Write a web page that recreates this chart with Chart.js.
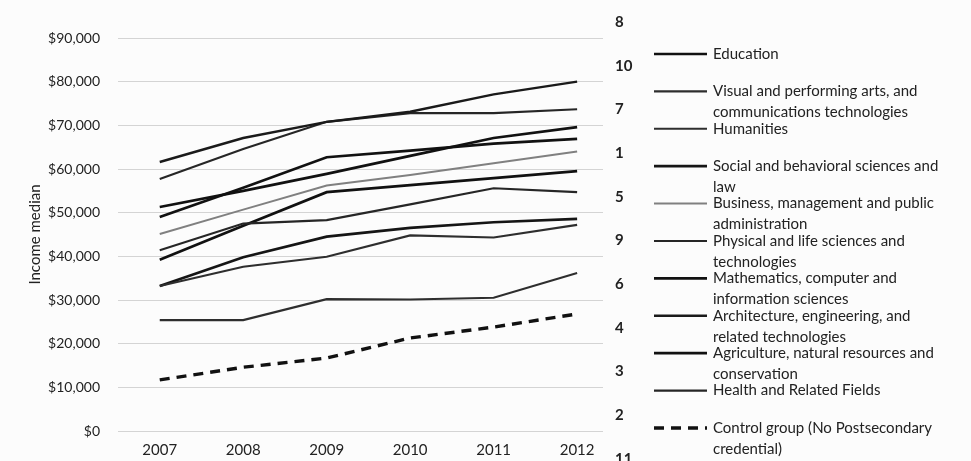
<!DOCTYPE html>
<html>
<head>
<meta charset="utf-8">
<script src="https://cdn.jsdelivr.net/npm/chart.js@4.4.1/dist/chart.umd.min.js"></script>
<style>
  html, body { margin: 0; padding: 0; background: #fcfcfc; }
  #wrap { position: relative; width: 971px; height: 461px; }
</style>
</head>
<body>
<div id="wrap"><canvas id="c"></canvas></div>
<script>
// ---------- data ----------
const years = [2007, 2008, 2009, 2010, 2011, 2012];
const yTicks = [0, 10000, 20000, 30000, 40000, 50000, 60000, 70000, 80000, 90000];

const seriesNames = [
  ['Education'],
  ['Visual and performing arts, and', 'communications technologies'],
  ['Humanities'],
  ['Social and behavioral sciences and', 'law'],
  ['Business, management and public', 'administration'],
  ['Physical and life sciences and', 'technologies'],
  ['Mathematics, computer and', 'information sciences'],
  ['Architecture, engineering, and', 'related technologies'],
  ['Agriculture, natural resources and', 'conservation'],
  ['Health and Related Fields'],
  ['Control group (No Postsecondary', 'credential)']
];

const education    = [49000, 55700, 62700, 64200, 65800, 66900];
const visualArts   = [25400, 25400, 30200, 30100, 30500, 36200];
const humanities   = [33200, 37600, 39900, 44800, 44300, 47200];
const social       = [33200, 39800, 44500, 46500, 47800, 48600];
const business     = [45100, 50700, 56200, 58600, 61300, 64000];
const physical     = [41400, 47500, 48300, 51900, 55600, 54700];
const mathematics  = [51300, 55000, 58900, 63000, 67100, 69600];
const architecture = [61600, 67100, 70800, 73100, 77100, 80000];
const agriculture  = [39200, 47000, 54700, 56300, 57900, 59500];
const health       = [57700, 64600, 70800, 72800, 72800, 73700];
const control      = [11700, 14600, 16700, 21300, 23800, 26800];

const seriesValues = [education, visualArts, humanities, social, business,
  physical, mathematics, architecture, agriculture, health, control];

// annotation column on the right of the plot
const rankLabels = ['8', '10', '7', '1', '5', '9', '6', '4', '3', '2', '11'];

// ---------- styles ----------
const seriesStyles = [
  { color: '#111', width: 2.7, dash: [] },
  { color: '#2e2e2e', width: 2.1, dash: [] },
  { color: '#2e2e2e', width: 2.1, dash: [] },
  { color: '#151515', width: 2.7, dash: [] },
  { color: '#808080', width: 2.0, dash: [] },
  { color: '#262626', width: 2.1, dash: [] },
  { color: '#111', width: 2.7, dash: [] },
  { color: '#1a1a1a', width: 2.4, dash: [] },
  { color: '#111', width: 2.7, dash: [] },
  { color: '#262626', width: 2.1, dash: [] },
  { color: '#111', width: 3.4, dash: [10, 7] }
];

const FONT = 'Lato, "Open Sans", sans-serif';
const TEXT = '#222';

const datasets = seriesValues.map((vals, i) => ({
  label: seriesNames[i].join(' '),
  data: vals.map((v, k) => ({ x: years[k], y: v })),
  borderColor: seriesStyles[i].color,
  borderWidth: seriesStyles[i].width,
  borderDash: seriesStyles[i].dash,
  pointRadius: 0,
  tension: 0,
  fill: false
}));

const sidePlugin = {
  id: 'side',
  afterDraw(chart) {
    const ctx = chart.ctx;
    const ys = chart.scales.y;
    ctx.save();
    // right-hand number column
    ctx.font = 'bold 15px ' + FONT;
    ctx.fillStyle = '#222';
    ctx.textAlign = 'left';
    ctx.textBaseline = 'middle';
    rankLabels.forEach((t, i) => {
      const y = ys.getPixelForValue(90000 - i * 10000) - 16;
      ctx.fillText(t, 615, y);
    });
    // legend
    ctx.font = '15px ' + FONT;
    ctx.fillStyle = TEXT;
    datasets.forEach((ds, i) => {
      const y = 54 + i * 37.4;
      ctx.beginPath();
      ctx.strokeStyle = ds.borderColor;
      ctx.lineWidth = ds.borderWidth;
      ctx.setLineDash(ds.borderDash);
      ctx.moveTo(654, y);
      ctx.lineTo(707, y);
      ctx.stroke();
      ctx.setLineDash([]);
      seriesNames[i].forEach((line, k) => {
        ctx.fillText(line, 713, y + k * 21);
      });
    });
    ctx.restore();
  }
};

new Chart(document.getElementById('c'), {
  type: 'line',
  data: { datasets },
  options: {
    responsive: true,
    maintainAspectRatio: false,
    animation: false,
    layout: { padding: { left: 26, right: 368, top: 38, bottom: 0 } },
    plugins: { legend: { display: false }, tooltip: { enabled: false } },
    scales: {
      x: {
        type: 'linear',
        min: 2006.5,
        max: 2012.31,
        grid: { display: false, drawTicks: false },
        border: { display: false },
        afterBuildTicks: s => { s.ticks = years.map(v => ({ value: v })); },
        afterFit: s => { s.height = 30; },
        ticks: {
          padding: 10,
          color: TEXT,
          font: { family: FONT, size: 15 },
          maxRotation: 0,
          callback: v => String(v)
        }
      },
      y: {
        min: 0,
        max: 90000,
        afterBuildTicks: s => { s.ticks = yTicks.map(v => ({ value: v })); },
        afterFit: s => { s.width = 92; },
        grid: { color: '#d4d4d4', lineWidth: 1, drawTicks: false },
        border: { display: false },
        ticks: {
          padding: 18,
          color: TEXT,
          font: { family: FONT, size: 14 },
          callback: v => '$' + v.toLocaleString('en-US')
        },
        title: {
          display: true,
          text: 'Income median',
          padding: 0,
          color: TEXT,
          font: { family: FONT, size: 15 }
        }
      }
    }
  },
  plugins: [sidePlugin]
});
</script>
</body>
</html>
